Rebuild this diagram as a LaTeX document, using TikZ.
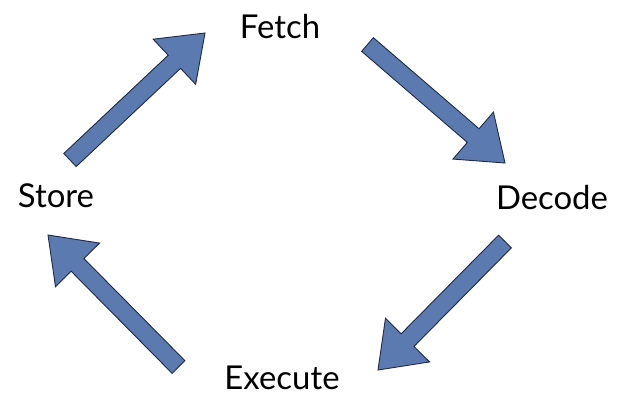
\documentclass[tikz,border=0pt]{standalone}
\usepackage{fontspec}
\setmainfont{Lato}
\usetikzlibrary{calc}

\definecolor{arrowfill}{RGB}{90,122,176}
\definecolor{arrowline}{RGB}{30,42,70}

% block arrow from tail coordinate #1 to tip coordinate #2
\newcommand{\cyclearrow}[2]{%
  \coordinate (base) at ($(#2)!42bp!(#1)$);
  \filldraw[fill=arrowfill, draw=arrowline, line width=0.9bp, line join=miter]
    ($(#1)!9bp!90:(#2)$) -- ($(base)!9bp!90:(#2)$) -- ($(base)!31bp!90:(#2)$)
    -- (#2) -- ($(base)!31bp!-90:(#2)$) -- ($(base)!9bp!-90:(#2)$)
    -- ($(#1)!9bp!-90:(#2)$) -- cycle;
}

\begin{document}
\begin{tikzpicture}[x=1bp, y=-1bp, stage/.style={font=\fontsize{33}{33}\selectfont, anchor=base, inner sep=0pt}]
  \useasboundingbox (0,0) rectangle (617,396);
  % the four stages
  \node[stage] (fetch)   at (280,38)  {Fetch};
  \node[stage] (decode)  at (552,209) {Decode};
  \node[stage] (execute) at (282,389) {Execute};
  \node[stage] (store)   at (56,207)  {Store};
  % arrow ends
  \coordinate (store-out)   at (70,160);
  \coordinate (fetch-in)    at (205,33);
  \coordinate (fetch-out)   at (367.5,44.5);
  \coordinate (decode-in)   at (505,163);
  \coordinate (decode-out)  at (505,241.5);
  \coordinate (execute-in)  at (378,370);
  \coordinate (execute-out) at (178.5,367);
  \coordinate (store-in)    at (48,235);
  % the cycle
  \foreach \a/\b in {store-out/fetch-in, fetch-out/decode-in, decode-out/execute-in, execute-out/store-in} {
    \cyclearrow{\a}{\b}
  }
\end{tikzpicture}
\end{document}
